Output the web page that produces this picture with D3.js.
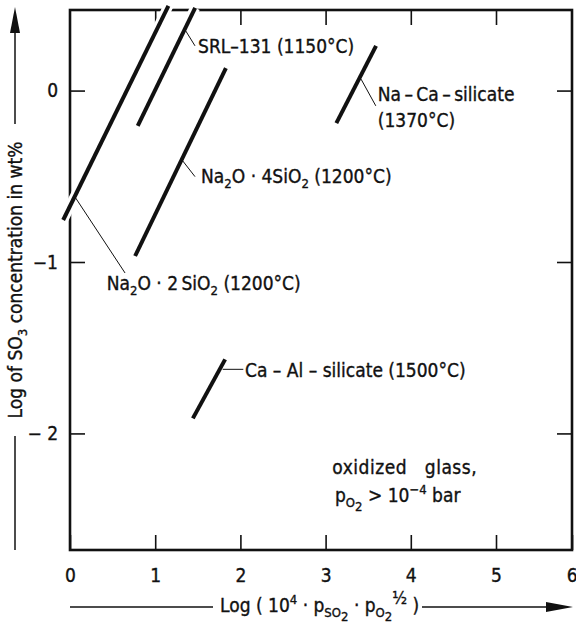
<!DOCTYPE html>
<html>
<head>
<meta charset="utf-8">
<script src="https://cdn.jsdelivr.net/npm/d3@7"></script>
<style>
  body { margin: 0; background: #fff; }
  text { font-family: "DejaVu Sans Condensed", "DejaVu Sans", sans-serif; font-stretch: condensed;
         fill: #111; stroke: #111; stroke-width: 0.35px; white-space: pre; }
</style>
</head>
<body>
<div class="chart"></div>
<script>
var svgWidth = 576;
var svgHeight = 623;
var fontSize = 19;
var smallSize = 13;

// tick values / labels
var xTicks = [0, 1, 2, 3, 4, 5, 6];
var yTicks = [-2, -1, 0];
var yTickLabels = ["\u2212 2", "\u22121", "0"];

// each glass: two end points of the measured line (x = log(1e4 pSO2 pO2^1/2), y = log wt% SO3)
var glassNames = ["Na2O·2SiO2", "SRL-131", "Na2O·4SiO2", "Na-Ca-silicate", "Ca-Al-silicate"];
var glassLines = [
  [[-0.08, -0.755], [1.155, 0.494]],
  [[0.795, -0.206], [1.469, 0.483]],
  [[0.764, -0.965], [1.83, 0.131]],
  [[3.126, -0.19], [3.592, 0.261]],
  [[1.442, -1.912], [1.821, -1.568]]
];
// leader lines from each curve to its label
var leaders = [
  [[0.059, -0.621], [0.646, -1.064]],
  [[1.346, 0.358], [1.467, 0.261]],
  [[1.315, -0.405], [1.467, -0.502]],
  [[3.416, 0.067], [3.589, -0.089]],
  [[1.792, -1.626], [2.034, -1.626]]
];
// label anchor (start, vertical centre) in data units
var labelPos = [[0.431, -1.123], [1.503, 0.261], [1.538, -0.498], [3.612, -0.019], [2.054, -1.630]];
var notePos = [[3.079, -2.195], [3.11, -2.36]];

var margin = { top: 10, right: 4, bottom: 73, left: 70 };

var svg = d3.select(".chart")
  .append("svg")
  .attr("width", svgWidth)
  .attr("height", svgHeight);

// the scanned axis is slightly stretched: 0..5 spaced evenly, 6 sits on the frame
var xScale = d3.scaleLinear()
  .domain([0, 5, 6])
  .range([70, 496, svgWidth - margin.right]);

var yScale = d3.scaleLinear()
  .domain([-2.68, 0.47])
  .range([svgHeight - margin.bottom, margin.top]);

var x0 = xScale(0), x1 = xScale(6), yB = yScale(-2.68), yT = yScale(0.47);

// axes with inward ticks
var bottomAxis = d3.axisBottom(xScale).tickValues(xTicks).tickSize(-15).tickPadding(19).tickFormat(d3.format("d"));
var topAxis = d3.axisTop(xScale).tickValues(xTicks.slice(1, 6)).tickSize(-15).tickFormat("");
var leftAxis = d3.axisLeft(yScale).tickValues(yTicks).tickSize(-15).tickPadding(12)
  .tickFormat((d, i) => yTickLabels[i]);
var rightAxis = d3.axisRight(yScale).tickValues(yTicks).tickSize(-15).tickFormat("");

function styleAxis(g) {
  g.select(".domain").remove();
  g.selectAll("line").attr("stroke", "#111").attr("stroke-width", 1.6);
  g.selectAll("text").style("font-size", fontSize + "px").attr("fill", "#111");
}

var xAxisG = svg.append("g").attr("transform", `translate(0, ${yB})`).call(bottomAxis).call(styleAxis);
// last label sits on the page edge; keep it inside
xAxisG.selectAll(".tick text").filter(d => d == 6).attr("text-anchor", "end").attr("x", 5);
svg.append("g").attr("transform", `translate(0, ${yT})`).call(topAxis).call(styleAxis);
svg.append("g").attr("transform", `translate(${x0}, 0)`).call(leftAxis).call(styleAxis);
svg.append("g").attr("transform", `translate(${x1}, 0)`).call(rightAxis).call(styleAxis);
svg.selectAll("g").attr("font-family", null).attr("font-size", null);

// frame
svg.append("rect")
  .attr("x", x0).attr("y", yT)
  .attr("width", x1 - x0).attr("height", yB - yT)
  .attr("fill", "none").attr("stroke", "#111").attr("stroke-width", 2.6);

var line = d3.line().x(d => xScale(d[0])).y(d => yScale(d[1]));

// white halo so lines break the frame where they cross it
svg.selectAll(".halo")
  .data(glassLines)
  .enter()
  .append("path")
  .attr("d", line)
  .attr("stroke", "#fff")
  .attr("stroke-width", 10)
  .attr("fill", "none");

svg.selectAll(".glass")
  .data(glassLines)
  .enter()
  .append("path")
  .attr("d", line)
  .attr("stroke", "#111")
  .attr("stroke-width", 4)
  .attr("fill", "none");

svg.selectAll(".leader")
  .data(leaders)
  .enter()
  .append("path")
  .attr("d", line)
  .attr("stroke", "#111")
  .attr("stroke-width", 1)
  .attr("fill", "none");

// rich text helper: parts = [[text, "n"|"sub"|"sup"|"subsub"], ...]
function richText(g, px, py, parts) {
  var t = g.append("text").attr("x", px).attr("y", py + 7).style("font-size", fontSize + "px");
  var level = 0;
  var off = { n: 0, sub: 5, sup: -8, subsub: 9 };
  parts.forEach(function(p) {
    var target = off[p[1]];
    t.append("tspan")
      .attr("dy", target - level)
      .style("font-size", p[1] == "n" ? fontSize + "px" : (p[2] || smallSize) + "px")
      .text(p[0]);
    level = target;
  });
  return t;
}

var labelParts = [
  [["Na", "n"], ["2", "sub"], ["O · 2\u2009SiO", "n"], ["2", "sub"], [" (1200°C)", "n"]],
  [["SRL\u2013131 (1150°C)", "n"]],
  [["Na", "n"], ["2", "sub"], ["O · 4SiO", "n"], ["2", "sub"], [" (1200°C)", "n"]],
  [["Na\u2009\u2013\u2009Ca\u2009\u2013\u2009silicate", "n"]],
  [["Ca \u2013 Al \u2013 silicate (1500°C)", "n"]]
];

labelParts.forEach(function(parts, i) {
  richText(svg, xScale(labelPos[i][0]), yScale(labelPos[i][1]), parts);
});
richText(svg, xScale(labelPos[3][0]), yScale(-0.171), [["(1370°C)", "n"]]);

richText(svg, xScale(notePos[0][0]), yScale(notePos[0][1]), [["oxidized\u00a0\u00a0\u00a0glass,", "n"]])
  .style("letter-spacing", "0.5px");
richText(svg, xScale(notePos[1][0]), yScale(notePos[1][1]),
  [["p", "n"], ["O", "sub"], ["2", "subsub"], [" > 10", "n"], ["\u22124", "sup"], [" bar", "n"]]);

// x axis title with arrow
var xTitleY = 607;
svg.append("line").attr("x1", x0).attr("x2", 213).attr("y1", xTitleY).attr("y2", xTitleY)
  .attr("stroke", "#111").attr("stroke-width", 1.5);
svg.append("line").attr("x1", 422).attr("x2", 550).attr("y1", xTitleY).attr("y2", xTitleY)
  .attr("stroke", "#111").attr("stroke-width", 1.5);
svg.append("path")
  .attr("d", `M546,${xTitleY - 5}L573,${xTitleY}L546,${xTitleY + 5}Z`)
  .attr("fill", "#111");
richText(svg, 220, xTitleY - 2,
  [["Log ( 10", "n"], ["4", "sup"], [" · p", "n"], ["SO", "sub"], ["2", "subsub"],
   [" · p", "n"], ["O", "sub"], ["2", "subsub"], ["½", "sup", 17], [" )", "n"]]);

// y axis title with arrow
var yTitleX = 15;
svg.append("line").attr("x1", yTitleX).attr("x2", yTitleX).attr("y1", yB).attr("y2", 436)
  .attr("stroke", "#111").attr("stroke-width", 1.5);
svg.append("line").attr("x1", yTitleX).attr("x2", yTitleX).attr("y1", 124).attr("y2", 30)
  .attr("stroke", "#111").attr("stroke-width", 1.5);
svg.append("path")
  .attr("d", `M${yTitleX - 5},33L${yTitleX},7L${yTitleX + 5},33Z`)
  .attr("fill", "#111");

var yTitle = svg.append("g").attr("transform", `translate(${yTitleX + 7}, 280) rotate(-90)`);
var yt = yTitle.append("text").attr("x", 0).attr("y", 0).attr("text-anchor", "middle").style("font-size", fontSize + "px");
yt.append("tspan").text("Log of SO");
yt.append("tspan").attr("dy", 5).style("font-size", smallSize + "px").text("3");
yt.append("tspan").attr("dy", -5).text(" concentration in wt%");
</script>
</body>
</html>
